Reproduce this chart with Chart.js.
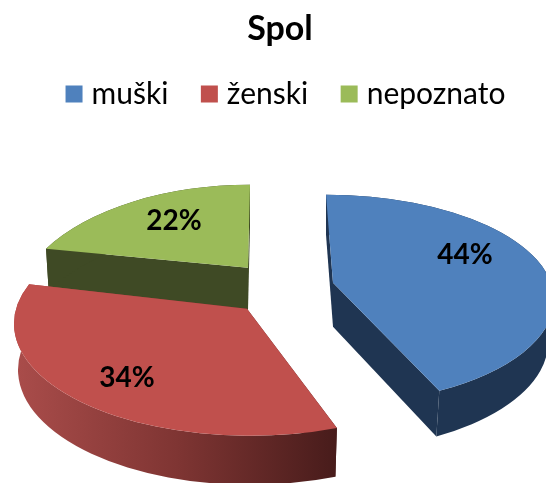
<!DOCTYPE html>
<html><head><meta charset="utf-8">
<style>html,body{margin:0;padding:0;background:#fff;overflow:hidden}#w{width:546px;height:483px}</style>
<script src="https://cdn.jsdelivr.net/npm/chart.js@4"></script>
</head><body><div id="w"><canvas id="c"></canvas></div>
<script>
const titleText = "Spol";
const categories = ["muški", "ženski", "nepoznato"];
const shares = [44, 34, 22];
const sliceColors = ["#4F81BD", "#C0504D", "#9BBB59"];
const wallColors = [["#1F3552"], ["#A94C4A", "#7F3533", "#481C1B"], ["#3F4A25"]];
const paintOrder = [2, 0, 1];
const VIEW_SHIFT_Y = 12.75;
const LEGEND_SHIFT_X = 8.5;

/* How each slice is foreshortened, in units of 1% of the library's outer radius, measured from its centre. */
const views = [
  { apex:[53,-31], apexLow:[53,13], top:[46,-14,228,105], low:[46,29,222,108], warp:[0,-8.2], label:[185,-59] },
  { apex:[-33,-5], apexLow:[-33,41], top:[-30,10,236,112], low:[-30,56,232,115], warp:[0,9.8], label:[-153,64] },
  { apex:[-32,-46], apexLow:[-32,-4], top:[-30,-2,235,127], low:[-30,40,232,127], warp:[19,0], label:[-106,-93] }
];
const DEG = Math.PI / 180;

const draw3d = {
  id: "draw3d",
  afterLayout(chart) {
    chart.legend.left += LEGEND_SHIFT_X;
    chart.legend.right += LEGEND_SHIFT_X;
  },
  beforeDatasetDraw(chart) {
    const ctx = chart.ctx;
    const arcs = chart.getDatasetMeta(0).data;
    const a0 = arcs[0];
    const u = a0.outerRadius / 100;
    const X = v => a0.x + v * u;
    const Y = v => a0.y + (v + VIEW_SHIFT_Y) * u;
    const rim = (e, a) => [X(e[0]) + e[2] * u * Math.cos(a), Y(e[1]) + e[3] * u * Math.sin(a)];
    const poly = pts => { ctx.beginPath(); pts.forEach((p, i) => i ? ctx.lineTo(p[0], p[1]) : ctx.moveTo(p[0], p[1])); ctx.closePath(); };
    ctx.save();
    ctx.beginPath(); ctx.rect(0, 0, chart.width, chart.height); ctx.clip();
    for (const i of paintOrder) {
      const arc = arcs[i], v = views[i];
      const a1 = arc.startAngle + v.warp[0] * DEG, a2 = arc.endAngle + v.warp[1] * DEG;
      const apex = [X(v.apex[0]), Y(v.apex[1])], apexLow = [X(v.apexLow[0]), Y(v.apexLow[1])];
      const cols = wallColors[i];
      let fill = cols[0];
      if (cols.length > 1) {
        const g = ctx.createLinearGradient(X(v.low[0] - v.low[2]), 0, rim(v.low, a1)[0], 0);
        cols.forEach((c, k) => g.addColorStop(k / (cols.length - 1), c));
        fill = g;
      }
      ctx.fillStyle = fill;
      poly([apex, rim(v.top, a1), rim(v.low, a1), apexLow]); ctx.fill();
      poly([apex, rim(v.top, a2), rim(v.low, a2), apexLow]); ctx.fill();
      ctx.beginPath();
      ctx.ellipse(X(v.top[0]), Y(v.top[1]), v.top[2] * u, v.top[3] * u, 0, a1, a2);
      ctx.ellipse(X(v.low[0]), Y(v.low[1]), v.low[2] * u, v.low[3] * u, 0, a2, a1, true);
      ctx.closePath(); ctx.fill();
      ctx.fillStyle = arc.options.backgroundColor;
      ctx.beginPath();
      ctx.moveTo(apex[0], apex[1]);
      ctx.ellipse(X(v.top[0]), Y(v.top[1]), v.top[2] * u, v.top[3] * u, 0, a1, a2);
      ctx.closePath(); ctx.fill();
    }
    ctx.fillStyle = "#000";
    ctx.font = "bold 28px Lato";
    ctx.textAlign = "center"; ctx.textBaseline = "middle";
    views.forEach((v, i) => ctx.fillText(shares[i] + "%", X(v.label[0]), Y(v.label[1])));
    ctx.restore();
    return false;
  }
};
new Chart(document.getElementById("c"), {
  type: "pie",
  data: { labels: categories, datasets: [{ data: shares, backgroundColor: sliceColors, borderWidth: 0, radius: 100 }] },
  options: {
    responsive: true, maintainAspectRatio: false, animation: false,
    layout: { padding: { left: 14, right: 0, top: 12, bottom: 0 } },
    plugins: {
      tooltip: { enabled: false },
      title: { display: true, text: titleText, color: "#000", font: { family: "Lato", size: 34, weight: "bold", lineHeight: 1 }, padding: { top: 0, bottom: -5.5 } },
      legend: { position: "top", labels: { usePointStyle: true, pointStyle: "rect", boxWidth: 5, boxHeight: 17, padding: 38.5, color: "#000", font: { family: "Lato", size: 30 } } }
    }
  },
  plugins: [draw3d]
});
</script></body></html>
